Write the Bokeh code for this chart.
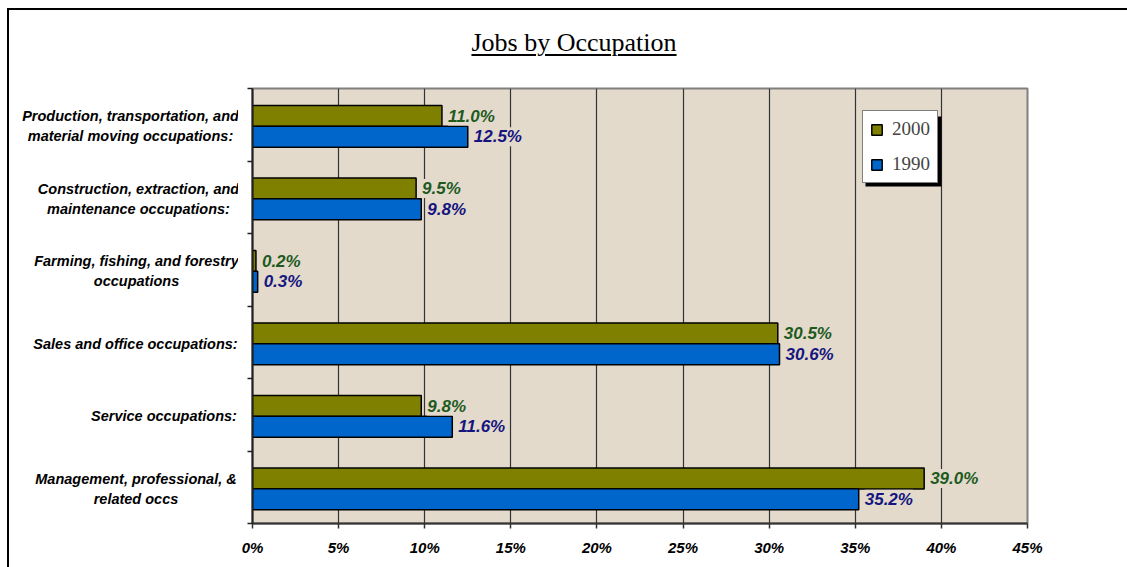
from bokeh.plotting import figure
from bokeh.layouts import column, row
from bokeh.models import (Range1d, FactorRange, LinearAxis, FixedTicker,
                          PrintfTickFormatter, ColumnDataSource, BoxAnnotation, Legend,
                          LegendItem, Div)
from bokeh.transform import dodge
from bokeh.core.properties import value
from bokeh.embed import file_html
from bokeh.resources import INLINE

# ---------------- data ----------------
title_text = "Jobs by Occupation"
categories = [
    "Production, transportation, and\nmaterial moving occupations:",
    "Construction, extraction, and\nmaintenance occupations:",
    "Farming, fishing, and forestry\noccupations",
    "Sales and office occupations:",
    "Service occupations:",
    "Management, professional, &\nrelated occs",
]
series_names = ["2000", "1990"]
values_2000 = [11.0, 9.5, 0.2, 30.5, 9.8, 39.0]
values_1990 = [12.5, 9.8, 0.3, 30.6, 11.6, 35.2]
x_ticks = [0, 5, 10, 15, 20, 25, 30, 35, 40, 45]

# ---------------- style / layout ----------------
W = 1118
TITLE_H = 70
FIG_H = 487
LABEL_W = 229
MAIN_W = W - LABEL_W
PLOT_BG = "#E3DACC"
C2000, C1990 = "#808000", "#0066CC"
T2000, T1990 = "#1E5A1E", "#15157F"
SANS = "Liberation Sans"
SERIF = "Liberation Serif"
label_centers = [121, 129, 127, 126, 154.5, 126.5]  # px within the label strip

title_div = Div(
    text=f'<div style="font-family:\'{SERIF}\'; font-size:26px; line-height:30px; color:black;">'
         f'<span style="text-decoration:underline; text-decoration-thickness:2px; '
         f'text-underline-offset:3px;">{title_text}</span></div>',
    width=W, height=TITLE_H, margin=0,
    styles={"text-align": "center", "padding-left": "12px", "padding-top": "18px",
            "box-sizing": "border-box"})

y_range = FactorRange(factors=categories[::-1])

# ---- main chart ----
p = figure(width=MAIN_W, height=FIG_H, x_range=Range1d(0, 45), y_range=y_range, title=None,
           output_backend="svg", toolbar_location=None, y_axis_location=None,
           min_border_left=14, min_border_right=100, min_border_top=8, min_border_bottom=44)
p.margin = 0
p.background_fill_color = PLOT_BG
p.border_fill_color = "white"
p.outline_line_color = "#808080"
p.outline_line_width = 2

p.xgrid.grid_line_color = "#333333"
p.xgrid.grid_line_width = 1.2
p.xgrid.ticker = FixedTicker(ticks=x_ticks)
p.ygrid.grid_line_color = None

xa = p.xaxis[0]
xa.ticker = FixedTicker(ticks=x_ticks)
xa.formatter = PrintfTickFormatter(format="%d%%")
xa.major_label_text_font = SANS
xa.major_label_text_font_style = "bold italic"
xa.major_label_text_font_size = "15px"
xa.major_label_text_color = "black"
xa.major_label_standoff = 10
xa.major_tick_in = 0
xa.major_tick_out = 5
xa.minor_tick_line_color = None
xa.axis_line_color = "#333333"
xa.axis_line_width = 2
xa.major_tick_line_color = "#333333"
xa.major_tick_line_width = 1.5

# y axis with ticks at the category boundaries (synthetic coordinates)
n = len(categories)
ya = LinearAxis(ticker=FixedTicker(ticks=list(range(n + 1))),
                major_label_overrides={i: "" for i in range(n + 1)},
                major_label_standoff=0,
                major_tick_in=0, major_tick_out=5, minor_tick_line_color=None,
                axis_line_color="#222222", axis_line_width=2,
                major_tick_line_color="#222222", major_tick_line_width=1.5)
p.add_layout(ya, "left")

src = ColumnDataSource(dict(
    cat=categories, v2000=values_2000, v1990=values_1990,
    l2000=[f"{v:.1f}%" for v in values_2000],
    l1990=[f"{v:.1f}%" for v in values_1990],
    lx=label_centers,
))

y2000 = dodge("cat", 0.12, range=y_range)
y1990 = dodge("cat", -0.165, range=y_range)
r1 = p.hbar(y=y2000, left=0, right="v2000", height=0.29, source=src,
            fill_color=C2000, line_color="black", line_width=1.5)
r2 = p.hbar(y=y1990, left=0, right="v1990", height=0.29, source=src,
            fill_color=C1990, line_color="black", line_width=1.5)

for yy, vfld, lfld, col in [(y2000, "v2000", "l2000", T2000), (y1990, "v1990", "l1990", T1990)]:
    p.text(x=vfld, y=yy, text=lfld, source=src, x_offset=6,
           text_align="left", text_baseline="middle",
           text_font=value(SANS), text_font_style="bold italic", text_font_size="17px",
           text_color=col, background_fill_color=PLOT_BG)

# legend shadow + legend
p.add_layout(BoxAnnotation(left=627, right=703, top=36, bottom=106,
                           left_units="canvas", right_units="canvas",
                           top_units="canvas", bottom_units="canvas",
                           fill_color="black", fill_alpha=1, line_color=None))
legend = Legend(items=[LegendItem(label=series_names[0], renderers=[r1]),
                       LegendItem(label=series_names[1], renderers=[r2])],
                location=(610, 340), margin=0, padding=7, spacing=13,
                glyph_width=13, glyph_height=13, label_height=20, label_standoff=9,
                label_text_font=SERIF, label_text_font_size="19px",
                border_line_color="black", border_line_width=1,
                background_fill_color="white", background_fill_alpha=1)
p.add_layout(legend)

# ---- category-name strip (shares the categorical y range) ----
lf = figure(width=LABEL_W, height=FIG_H, x_range=Range1d(0, LABEL_W), y_range=y_range,
            title=None, output_backend="svg", toolbar_location=None,
            x_axis_location=None, y_axis_location=None,
            min_border_left=0, min_border_right=0, min_border_top=8, min_border_bottom=44)
lf.margin = 0
lf.outline_line_color = None
lf.background_fill_color = "white"
lf.border_fill_color = "white"
lf.xgrid.grid_line_color = None
lf.ygrid.grid_line_color = None
lf.text(x="lx", y="cat", text="cat", source=src, text_align="center", text_baseline="middle",
        y_offset=1.5,
        text_font=value(SANS), text_font_style="bold italic", text_font_size="14.5px",
        text_line_height=1.25, text_color="black")

layout = column(title_div, row(lf, p, spacing=0), spacing=0, margin=(8, 0, 0, 7),
                styles={"border-left": "2px solid black", "border-top": "2px solid black"})

open("out.html", "w").write(file_html(layout, INLINE))
